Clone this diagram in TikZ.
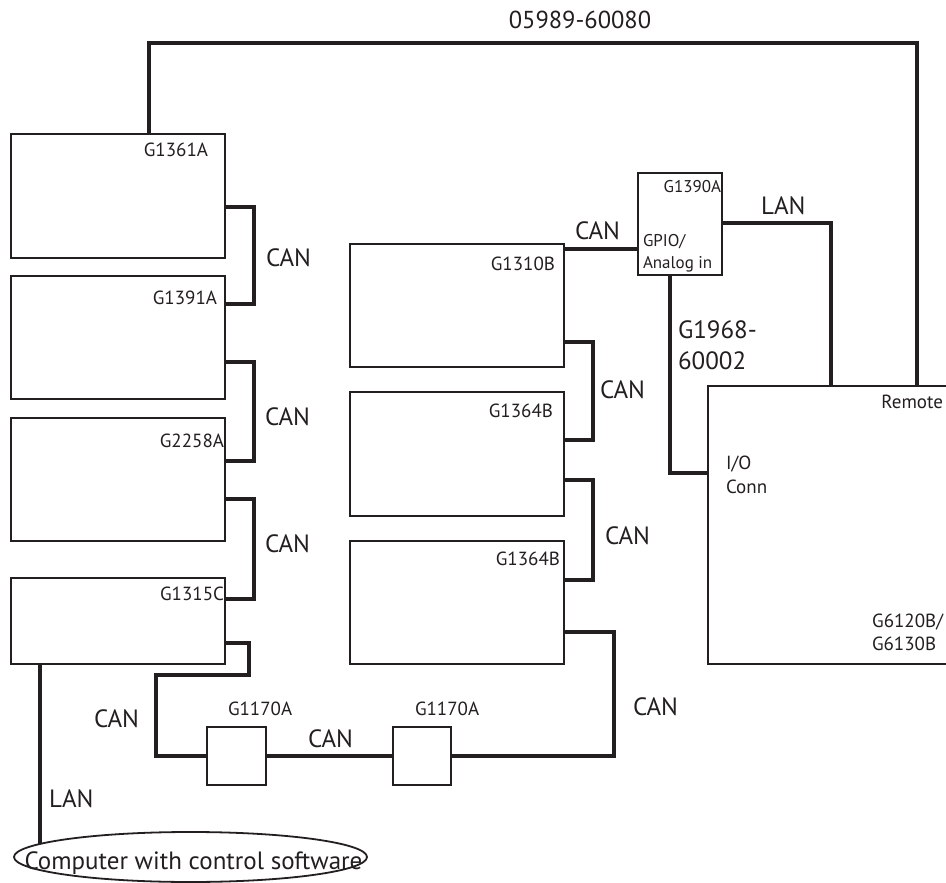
\documentclass[tikz,border=0pt]{standalone}
\usepackage{fontspec}
\setmainfont{PT Sans}
\usetikzlibrary{calc,shapes.geometric}
\definecolor{ink}{HTML}{231F20}
\begin{document}
\begin{tikzpicture}[x=1pt,y=-1pt,
  box/.style={draw=ink, line width=1.8pt, rectangle, inner sep=0pt, outer sep=0pt, anchor=north west, fill=white},
  conn/.style={draw=ink, line width=3.2pt},
  lbl/.style={font=\fontsize{19}{22}\selectfont, text=ink, inner sep=0pt, outer sep=0pt},
  small/.style={font=\fontsize{17}{20}\selectfont, text=ink, inner sep=0pt, outer sep=0pt},
  big/.style={font=\fontsize{25}{30}\selectfont, text=ink, inner sep=0pt, outer sep=0pt}]
\clip (0,0) rectangle (946,883);
\fill[white] (0,0) rectangle (946,883);
% boxes
\node[box, minimum width=214pt, minimum height=124pt] (g1361) at (11,134) {};
\node[box, minimum width=214pt, minimum height=123pt] (g1391) at (11,276) {};
\node[box, minimum width=214pt, minimum height=123pt] (g2258) at (11,418) {};
\node[box, minimum width=214pt, minimum height=86pt] (g1315) at (11,578) {};
\node[box, minimum width=214pt, minimum height=123pt] (g1310) at (350,244) {};
\node[box, minimum width=214pt, minimum height=124pt] (g1364a) at (350,392) {};
\node[box, minimum width=214pt, minimum height=123pt] (g1364b) at (350,541) {};
\node[box, minimum width=84pt, minimum height=102pt] (g1390) at (638,173) {};
\node[box, minimum width=270pt, minimum height=278pt] (g6120) at (708,386) {};
\node[box, minimum width=59pt, minimum height=58pt] (g1170a) at (207,727) {};
\node[box, minimum width=58pt, minimum height=58pt] (g1170b) at (393,727) {};
\node[draw=ink, line width=1.8pt, ellipse, minimum width=353pt, minimum height=50pt, inner sep=0pt, outer sep=0pt] (comp) at (190.5,857) {};
% box labels
\node[lbl, anchor=base east] at (208,157) {G1361A};
\node[lbl, anchor=base east] at (217,304) {G1391A};
\node[lbl, anchor=base east] at (224,447) {G2258A};
\node[lbl, anchor=base east] at (224,600) {G1315C};
\node[lbl, anchor=base east] at (555,270) {G1310B};
\node[lbl, anchor=base east] at (553,417) {G1364B};
\node[lbl, anchor=base east] at (560,565) {G1364B};
\node[small, anchor=base east] at (721,192) {G1390A};
\node[small, anchor=base west] at (643,246) {GPIO/};
\node[small, anchor=base west] at (643,268) {Analog in};
\node[lbl, anchor=base east] at (943,408) {Remote};
\node[lbl, anchor=base west] at (726,469) {I/O};
\node[lbl, anchor=base west] at (726,493) {Conn};
\node[lbl, anchor=base east] at (943,627) {G6120B/};
\node[lbl, anchor=base west, xshift=-0pt] at (872,650) {G6130B};
\node[lbl, anchor=base west] at (228,715) {G1170A};
\node[lbl, anchor=base west] at (415,715) {G1170A};
\node[big, anchor=base] at (193.5,869) {Computer with control software};
% connectors
\draw[conn] ($(g1361.north east)+(0,73)$) -| ($(g1391.north east)+(29,28)$) -- ($(g1391.north east)+(0,28)$);
\draw[conn] ($(g1391.north east)+(0,86)$) -| ($(g2258.north east)+(29,43)$) -- ($(g2258.north east)+(0,43)$);
\draw[conn] ($(g2258.north east)+(0,81)$) -| ($(g1315.north east)+(29,21)$) -- ($(g1315.north east)+(0,21)$);
\draw[conn] ($(g1315.north east)+(0,65)$) -| ($(g1315.south east)+(24,11)$) -| ($(g1170a.west)+(-51,0)$) -- (g1170a.west);
\draw[conn] (g1170a.east) -- (g1170b.west);
\draw[conn] (g1170b.east) -| ($(g1364b.north east)+(50,91)$) -- ($(g1364b.north east)+(0,91)$);
\draw[conn] ($(g1364a.north east)+(0,88)$) -| ($(g1364b.north east)+(29,39)$) -- ($(g1364b.north east)+(0,39)$);
\draw[conn] ($(g1310.north east)+(0,98)$) -| ($(g1364a.north east)+(29,48)$) -- ($(g1364a.north east)+(0,48)$);
\draw[conn] ($(g1310.north east)+(0,5)$) -- ($(g1390.north west)+(0,76)$);
\draw[conn] ($(g1390.north east)+(0,50)$) -| ($(g6120.north west)+(123,0)$);
\draw[conn] ($(g1390.south west)+(32,0)$) |- ($(g6120.north west)+(0,87)$);
\draw[conn] ($(g1361.north west)+(138,0)$) |- ($(g6120.north west)+(209,-343)$) coordinate (topR) -- ($(g6120.north west)+(209,0)$);
\draw[conn] ($(g1315.south west)+(29,0)$) -- ($(comp.center)+(-150.5,-13)$);
% connector labels
\node[big, font=\fontsize{24.5}{29}\selectfont, anchor=base] at (580,29) {05989-60080};
\node[big, anchor=base west] at (266,266) {CAN};
\node[big, anchor=base west] at (265,425) {CAN};
\node[big, anchor=base west] at (265,552) {CAN};
\node[big, anchor=base west] at (575,239) {CAN};
\node[big, anchor=base west] at (600,398) {CAN};
\node[big, anchor=base west] at (605,544) {CAN};
\node[big, anchor=base west] at (633,715) {CAN};
\node[big, anchor=base west] at (308,747) {CAN};
\node[big, anchor=base west] at (94,727) {CAN};
\node[big, anchor=base west] at (761,214) {LAN};
\node[big, anchor=base west] at (49,807) {LAN};
\node[big, anchor=base west] at (678,338) {G1968-};
\node[big, anchor=base west] at (678,369) {60002};
\end{tikzpicture}
\end{document}
